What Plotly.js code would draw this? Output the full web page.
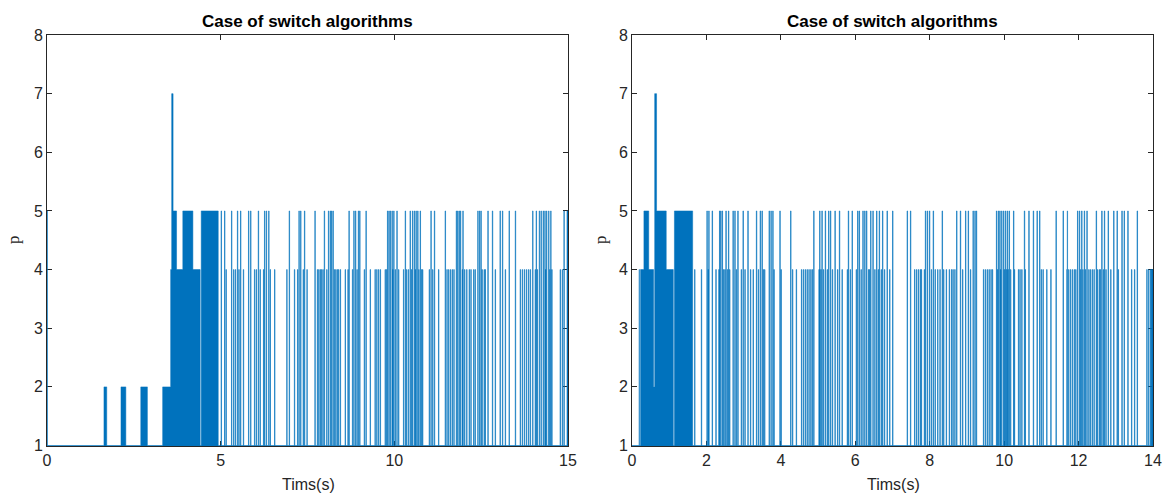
<!DOCTYPE html>
<html>
<head>
<meta charset="utf-8">
<script src="https://cdn.plot.ly/plotly-3.0.1.min.js"></script>
<style>html,body{margin:0;padding:0;background:#fff;}#chart{width:1163px;height:494px;}</style>
</head>
<body>
<div id="chart"></div>
<script>
// ---------- Left panel data (time in s, p level) ----------
const leftBlockStart = [0, 1.64, 2.13, 2.70, 3.33, 3.56, 3.59, 3.63, 3.73, 3.91, 4.20, 4.44, 14.97];
const leftBlockEnd   = [0.01, 1.72, 2.27, 2.89, 3.56, 3.59, 3.63, 3.73, 3.91, 4.20, 4.41, 4.93, 15.0];
const leftBlockLevel = [5, 2, 2, 2, 2, 4, 7, 5, 4, 5, 4, 5, 5];
const leftSpikes5 = [5.01, 5.11, 5.31, 5.48, 5.57, 5.80, 5.86, 6.08, 6.26, 6.31, 6.38, 6.97, 7.25, 7.30, 7.41,
  7.71, 7.98, 8.10, 8.15, 8.19, 8.23, 8.69, 8.83, 8.88, 8.96, 9.00, 9.18, 9.80, 9.84, 9.88, 9.93, 9.98,
  10.07, 10.31, 10.45, 10.52, 10.57, 10.62, 10.67, 10.74, 11.05, 11.15, 11.46, 11.78, 11.82, 11.86, 11.90,
  11.97, 12.40, 12.45, 12.49, 12.69, 12.82, 13.04, 13.11, 13.30, 13.48, 13.98, 14.08, 14.17, 14.22, 14.28,
  14.33, 14.38, 14.44, 14.50, 14.88];
const leftSpikes4 = [5.15, 5.37, 5.42, 5.52, 5.65, 5.97, 6.02, 6.13, 6.23, 6.42, 6.55, 6.90, 7.12, 7.21, 7.37,
  7.48, 7.78, 7.82, 7.86, 7.90, 7.94, 8.05, 8.27, 8.31, 8.35, 8.39, 8.44, 8.58, 8.66, 8.79, 8.92, 9.13, 9.30,
  9.44, 9.49, 9.54, 9.59, 9.73, 9.77, 9.95, 10.02, 10.12, 10.26, 10.35, 10.40, 10.49, 10.60, 10.70, 10.78,
  10.81, 11.00, 11.10, 11.27, 11.51, 11.56, 11.61, 11.66, 11.71, 11.95, 12.02, 12.08, 12.15, 12.20, 12.28,
  12.32, 12.52, 12.58, 12.61, 12.90, 13.19, 13.62, 13.68, 13.74, 13.80, 13.86, 13.91, 14.05, 14.11, 14.35,
  14.47, 14.53, 14.77, 14.83];

// ---------- Right panel data ----------
const rightBlockStart = [0.19, 0.23, 0.32, 0.45, 0.58, 0.61, 0.66, 0.92, 1.14, 13.95];
const rightBlockEnd   = [0.20, 0.32, 0.45, 0.58, 0.61, 0.66, 0.92, 1.11, 1.63, 14.0];
const rightBlockLevel = [4, 4, 5, 4, 2, 7, 5, 4, 5, 4];
const rightSpikes5 = [2.01, 2.06, 2.15, 2.35, 2.38, 2.42, 2.52, 2.59, 2.71, 2.76, 2.84, 2.98, 3.11, 3.34, 3.44,
  3.49, 3.68, 3.73, 3.78, 3.97, 4.26, 4.88, 5.04, 5.10, 5.19, 5.28, 5.33, 5.45, 5.57, 5.81, 5.91, 6.06, 6.10,
  6.20, 6.25, 6.30, 6.41, 6.47, 6.57, 6.64, 6.73, 6.85, 7.00, 7.39, 7.48, 7.88, 7.93, 7.99, 8.09, 8.33, 8.72,
  8.82, 8.96, 9.03, 9.16, 9.21, 9.25, 9.79, 9.84, 9.88, 9.93, 9.98, 10.03, 10.08, 10.13, 10.25, 10.54, 10.66,
  10.78, 10.88, 10.95, 11.39, 11.58, 11.69, 11.97, 12.02, 12.08, 12.15, 12.22, 12.47, 12.62, 12.69, 12.79,
  12.94, 13.03, 13.16, 13.22, 13.32, 13.57];
const rightSpikes4 = [1.68, 1.86, 2.04, 2.25, 2.33, 2.45, 2.49, 2.56, 2.62, 2.80, 2.93, 3.03, 3.18, 3.25, 3.39,
  3.52, 3.56, 3.81, 4.00, 4.31, 4.41, 4.55, 4.60, 4.65, 4.70, 4.75, 4.80, 4.84, 5.02, 5.07, 5.14, 5.24, 5.38,
  5.52, 5.64, 5.78, 5.86, 6.02, 6.15, 6.35, 6.38, 6.52, 6.61, 6.69, 6.78, 6.92, 7.59, 7.64, 7.69, 7.74, 7.77,
  7.85, 8.04, 8.14, 8.21, 8.27, 8.37, 8.44, 8.52, 8.58, 8.62, 8.67, 8.88, 9.09, 9.44, 9.49, 9.54, 9.59, 9.64,
  9.68, 9.82, 9.90, 10.00, 10.05, 10.10, 10.17, 10.27, 10.38, 10.42, 10.47, 10.56, 10.99, 11.04, 11.14, 11.25,
  11.68, 11.73, 11.78, 11.83, 11.88, 11.92, 12.05, 12.11, 12.18, 12.27, 12.31, 12.36, 12.41, 12.50, 12.55,
  12.58, 12.66, 12.73, 12.86, 13.06, 13.42, 13.50, 13.83, 13.88, 13.93];

const spikeDuration = 0.015;
const yTicks = [1, 2, 3, 4, 5, 6, 7, 8];
const leftXTicks = [0, 5, 10, 15];
const rightXTicks = [0, 2, 4, 6, 8, 10, 12, 14];
const titleText = 'Case of switch algorithms';
const xLabel = 'Tims(s)';
const yLabel = 'p';

function buildSteps(bs, be, bl, s5, s4, tmax) {
  const pulses = bs.map((s, i) => [s, be[i], bl[i]]);
  s5.forEach(t => pulses.push([t, t + spikeDuration, 5]));
  s4.forEach(t => pulses.push([t, t + spikeDuration, 4]));
  pulses.sort((a, b) => a[0] - b[0]);
  const x = [0], y = [1];
  let last = 0;
  pulses.forEach(p => {
    let s = Math.max(p[0], last);
    let e = Math.max(p[1], s + 0.004);
    if (x.length > 1 && Math.abs(s - last) < 1e-9 && y[y.length - 1] === 1) {
      x.pop(); y.pop();
    }
    x.push(s); y.push(p[2]);
    x.push(e); y.push(1);
    last = e;
  });
  if (last < tmax) { x.push(tmax); y.push(1); }
  return {x, y};
}

const L = buildSteps(leftBlockStart, leftBlockEnd, leftBlockLevel, leftSpikes5, leftSpikes4, 15);
const R = buildSteps(rightBlockStart, rightBlockEnd, rightBlockLevel, rightSpikes5, rightSpikes4, 14);

const blue = '#0072BD';
const traceStyle = {type: 'scatter', mode: 'lines', line: {shape: 'hv', color: blue, width: 0.5},
  fill: 'tozeroy', fillcolor: blue, showlegend: false, hoverinfo: 'x+y'};

const data = [
  Object.assign({}, traceStyle, {x: L.x, y: L.y, xaxis: 'x', yaxis: 'y'}),
  Object.assign({}, traceStyle, {x: R.x, y: R.y, xaxis: 'x2', yaxis: 'y2'})
];

const W = 1163, H = 494;
const axCol = '#262626';
const tickFont = {family: 'Arial, "Liberation Sans", Helvetica, sans-serif', size: 16, color: axCol};
function xax(domain, range, ticks, anchor) {
  return {domain: domain, range: range, tickvals: ticks, ticktext: ticks.map(String), anchor: anchor,
    showgrid: false, zeroline: false, showline: true, linecolor: axCol, linewidth: 1, mirror: 'ticks',
    ticks: 'inside', ticklen: 5, tickcolor: axCol, tickfont: tickFont, layer: 'below traces',
    fixedrange: true, automargin: false};
}
function yax(anchor) {
  return {domain: [48 / H, 459 / H], range: [0.992, 8], tickvals: yTicks, ticktext: yTicks.map(String),
    anchor: anchor, showgrid: false, zeroline: false, showline: true, linecolor: axCol, linewidth: 1,
    mirror: 'ticks', ticks: 'inside', ticklen: 5, tickcolor: axCol, tickfont: tickFont,
    layer: 'below traces', fixedrange: true, automargin: false};
}

const titleFont = {family: 'Arial, "Liberation Sans", Helvetica, sans-serif', size: 17, color: '#000'};
const labelFont = {family: 'Arial, "Liberation Sans", Helvetica, sans-serif', size: 16, color: axCol};
const pFont = {family: '"Liberation Serif", "Times New Roman", serif', size: 17, color: axCol};

function ann(text, xpx, ypx, font, extra) {
  return Object.assign({text: text, xref: 'paper', yref: 'paper', x: xpx / W, y: 1 - ypx / H,
    xanchor: 'center', yanchor: 'middle', showarrow: false, font: font}, extra || {});
}

const layout = {
  width: W, height: H,
  margin: {l: 0, r: 0, t: 0, b: 0},
  paper_bgcolor: '#fff', plot_bgcolor: '#fff',
  xaxis: xax([47 / W, 568 / W], [0, 15], leftXTicks, 'y'),
  yaxis: yax('x'),
  xaxis2: xax([632 / W, 1153 / W], [0, 14], rightXTicks, 'y2'),
  yaxis2: yax('x2'),
  annotations: [
    ann('<b>' + titleText + '</b>', 307.5, 21, titleFont),
    ann('<b>' + titleText + '</b>', 892.5, 21, titleFont),
    ann(xLabel, 308, 484, labelFont),
    ann(xLabel, 893, 484, labelFont),
    ann(yLabel, 14, 240, pFont, {textangle: -90}),
    ann(yLabel, 601, 240, pFont, {textangle: -90})
  ]
};

Plotly.newPlot('chart', data, layout, {displayModeBar: false, staticPlot: true});
</script>
</body>
</html>
